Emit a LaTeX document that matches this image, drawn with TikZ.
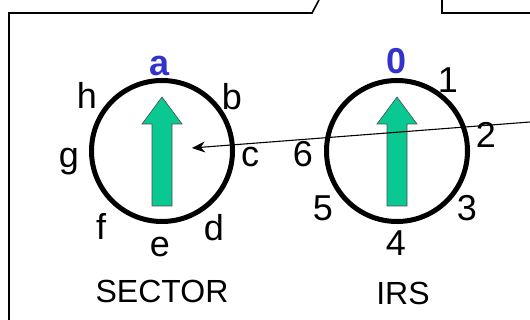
\documentclass[tikz,border=0pt]{standalone}
\usepackage{fontspec}
\setmainfont{Liberation Sans}
\usetikzlibrary{positioning}
\usetikzlibrary{calc}
\usetikzlibrary{arrows.meta}

\definecolor{needlegreen}{RGB}{10,200,145}
\definecolor{markblue}{RGB}{50,50,205}

\tikzset{
  dial/.style={circle, draw=black, line width=5pt, minimum size=141pt, inner sep=0pt},
  needle/.style={fill=needlegreen, draw=black!70, line width=0.6pt},
  dialmark/.style={font=\fontsize{36}{36}\selectfont, inner sep=0pt},
  topmark/.style={dialmark, text=markblue, font=\fontsize{36}{36}\selectfont\bfseries},
  caption/.style={font=\fontsize{32}{32}\selectfont, inner sep=0pt},
  pointer/.style={black, line width=1.1pt, -{Stealth[length=13pt,width=11pt]}}
}

\newcommand{\greenneedle}[1]{%
  \draw[needle] (#1)++(-10,55) --++(0,-82) --++(-10,0) --++(20,-27)
    --++(20,27) --++(-10,0) --++(0,82) -- cycle;}

\begin{document}
\begin{tikzpicture}[x=1pt,y=-1pt]
\useasboundingbox (0,0) rectangle (530,320);

% frame
{
\draw[black, line width=1.6pt] (9,320)--(9,13)--(312,13)--(319,0);
\draw[black, line width=1.6pt] (442,0)--(442,13)--(530,13);
}

% sector dial
{
\node[dial] (sector) at (162,151) {};
\greenneedle{sector.center}

\node[topmark] (sa) at ($(sector.center)+(-2,-85)$) {a};
\node[dialmark] (sb) at ($(sector.center)+(70,-54)$) {b};
\node[dialmark] (sc) at ($(sector.center)+(88,6)$) {c};
\node[dialmark] (sd) at ($(sector.center)+(52,77)$) {d};
\node[dialmark] (se) at ($(sector.center)+(-2,96)$) {e};
\node[dialmark] (sf) at ($(sector.center)+(-61,75)$) {f};
\node[dialmark] (sg) at ($(sector.center)+(-93,11)$) {g};
\node[dialmark] (sh) at ($(sector.center)+(-75,-56)$) {h};

\node[caption] (sectorname) at (162,291) {SECTOR};
}

% irs dial
{
\node[dial] (irs) at (397,151) {};
\greenneedle{irs.center}

\node[topmark] (i0) at ($(irs.center)+(0,-90)$) {0};
\node[dialmark] (i1) at ($(irs.center)+(51,-71)$) {1};
\node[dialmark] (i2) at ($(irs.center)+(89,-16)$) {2};
\node[dialmark] (i3) at ($(irs.center)+(70,57)$) {3};
\node[dialmark] (i4) at ($(irs.center)+(-1,92)$) {4};
\node[dialmark] (i5) at ($(irs.center)+(-74,57)$) {5};
\node[dialmark] (i6) at ($(irs.center)+(-94,3)$) {6};

\node[caption] (irsname) at (403,293) {IRS};
}

% pointer line
\coordinate (lineend) at (530,122);
\coordinate (sectorpt) at (192,148);
\draw[pointer] (lineend) -- (sectorpt);

\end{tikzpicture}
\end{document}
